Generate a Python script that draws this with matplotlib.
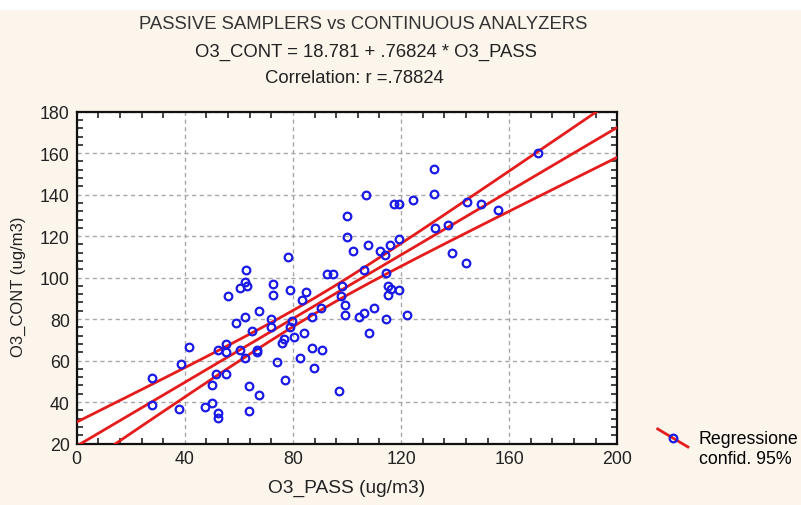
import numpy as np
import matplotlib
matplotlib.use("Agg")
import matplotlib.pyplot as plt
from matplotlib.lines import Line2D
from matplotlib.legend_handler import HandlerBase
from matplotlib.patches import Rectangle
import matplotlib.ticker as ticker

# passive sampler readings (x) vs continuous analyzer readings (y), ug/m3
o3_pass = [27.9, 27.9, 37.7, 38.6, 41.5, 47.5, 49.9, 49.9, 51.4, 52.1,
           52.2, 52.2, 55.1, 55.3, 55.1, 56.0, 58.9, 60.5, 62.9, 62.1,
           62.7, 62.1, 60.5, 62.1, 63.6, 63.6, 65.0, 66.6, 66.6, 67.4,
           67.3, 72.0, 72.0, 72.7, 72.7, 74.2, 75.8, 76.7, 77.2, 78.1,
           78.9, 79.5, 78.8, 80.3, 82.6, 84.1, 83.4, 84.8, 87.2, 87.9,
           90.9, 87.2, 90.4, 92.5, 94.7, 97.0, 98.3, 97.8, 99.3, 99.3,
           100.1, 100.1, 102.3, 104.6, 106.2, 106.1, 106.9, 107.8, 108.0, 109.8,
           112.2, 114.1, 114.4, 114.4, 116.0, 115.2, 116.4, 115.2, 119.2, 119.3,
           117.5, 119.2, 122.2, 124.5, 132.0, 132.0, 132.7, 137.3, 139.0, 144.2,
           144.1, 149.6, 155.8, 170.8]
o3_cont = [51.4, 38.6, 36.7, 58.2, 66.3, 37.5, 39.7, 48.4, 53.5, 65.3,
           34.6, 32.5, 68.2, 64.1, 53.4, 91.0, 78.2, 95.0, 96.1, 98.1,
           103.8, 81.0, 65.3, 61.1, 47.5, 35.6, 74.4, 65.3, 64.3, 43.5,
           84.0, 80.0, 76.0, 91.8, 96.9, 59.3, 68.4, 70.6, 50.4, 109.8,
           93.8, 79.2, 76.0, 71.3, 61.2, 73.3, 89.2, 92.9, 66.0, 56.3,
           65.2, 81.1, 85.3, 101.9, 101.9, 45.5, 95.8, 91.1, 87.0, 82.1,
           129.5, 119.6, 112.7, 81.0, 83.1, 103.9, 139.6, 115.7, 73.2, 85.3,
           112.7, 111.0, 102.0, 80.0, 115.7, 95.9, 94.6, 91.7, 94.0, 118.7,
           135.5, 135.5, 82.0, 137.5, 152.3, 140.3, 123.7, 125.5, 111.8, 136.4,
           106.9, 135.5, 132.6, 160.1]

intercept = 18.781
slope = 0.76824
r_value = 0.78824

title_lines = ["PASSIVE SAMPLERS vs CONTINUOUS ANALYZERS",
               "O3_CONT = 18.781 + .76824 * O3_PASS",
               "Correlation: r =.78824"]

BG = "#fbf5ec"
RED = "#e51c1c"
BLUE = "#1a1ae6"

plt.rcParams["font.family"] = ["Liberation Sans", "DejaVu Sans"]


class SlantHandler(HandlerBase):
    # legend symbol: diagonal red line with an open circle in the middle
    def create_artists(self, legend, orig_handle, xdescent, ydescent,
                       width, height, fontsize, trans):
        dy = fontsize * 0.62
        x0, x1 = -xdescent, -xdescent + width
        y0, y1 = height + dy + 2, -2 + dy
        ln = Line2D([x0, x1], [y0, y1], color=RED, lw=2.0, transform=trans)
        mk = Line2D([(x0 + x1) / 2], [(y0 + y1) / 2], marker="o", ms=5.5,
                    mfc="none", mec=BLUE, mew=1.6, transform=trans)
        return [ln, mk]


x = np.array(o3_pass)
y = np.array(o3_cont)
n = len(x)
resid = y - (intercept + slope * x)
s = np.sqrt(np.sum(resid ** 2) / (n - 2))
sxx = np.sum((x - x.mean()) ** 2)
t95 = 1.986

xs = np.linspace(0, 200, 200)
fit = intercept + slope * xs
hw = t95 * s * np.sqrt(1.0 / n + (xs - x.mean()) ** 2 / sxx)

fig = plt.figure(figsize=(8.01, 5.06), dpi=100, facecolor=BG)
fig.add_artist(Rectangle((0, 0.979), 1, 0.021, transform=fig.transFigure,
                         facecolor="white", edgecolor="none"))
ax = fig.add_axes([0.0958, 0.1215, 0.6749, 0.6558])
ax.set_facecolor("white")

ax.plot(xs, fit, color=RED, lw=2.0, zorder=3)
ax.plot(xs, fit + hw, color=RED, lw=2.0, zorder=3)
ax.plot(xs, fit - hw, color=RED, lw=2.0, zorder=3)
ax.plot(x, y, "o", ms=5.5, mfc="none", mec=BLUE, mew=1.6, zorder=4)

ax.set_xlim(0, 200)
ax.set_ylim(20, 180)
ax.xaxis.set_major_locator(ticker.MultipleLocator(40))
ax.xaxis.set_minor_locator(ticker.MultipleLocator(8))
ax.yaxis.set_major_locator(ticker.MultipleLocator(20))
ax.yaxis.set_minor_locator(ticker.MultipleLocator(4))
ax.tick_params(which="both", direction="in", top=True, right=True,
               labelsize=12.8, colors="#222222", width=1.2)
ax.tick_params(which="major", length=0, pad=5)
ax.tick_params(which="minor", length=4)
for sp in ax.spines.values():
    sp.set_linewidth(1.6)
    sp.set_color("#111111")
ax.grid(which="major", color="#a8a8a8", linestyle=(0, (3, 2.5)), linewidth=1.0)
ax.set_axisbelow(True)

ax.set_xlabel("O3_PASS (ug/m3)", fontsize=13.8, color="#222222", labelpad=8)
ax.set_ylabel("O3_CONT (ug/m3)", fontsize=12, color="#222222")
ax.yaxis.set_label_coords(-0.094, 0.475)

fig.text(0.453, 0.951, title_lines[0], ha="center", va="center", fontsize=13.3, color="#333333")
fig.text(0.457, 0.897, title_lines[1], ha="center", va="center", fontsize=13.3, color="#222222")
fig.text(0.442, 0.845, title_lines[2], ha="center", va="center", fontsize=13.3, color="#222222")

h = Line2D([], [])
fig.legend(handles=[h], labels=["Regressione\nconfid. 95%"],
           handler_map={h: SlantHandler()}, loc="upper left",
           bbox_to_anchor=(0.81, 0.165), frameon=False, fontsize=12.8,
           handlelength=1.7, handletextpad=0.6, borderpad=0)

fig.savefig("out.png", dpi=100, facecolor=BG)
